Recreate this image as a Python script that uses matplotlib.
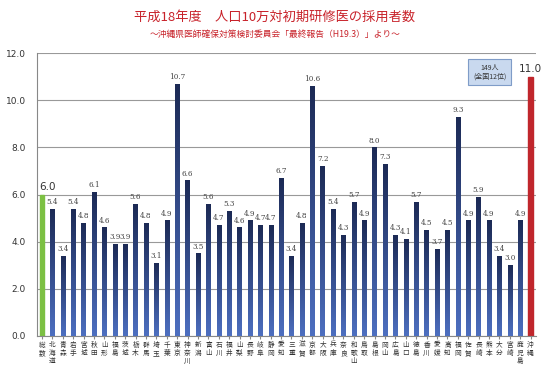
import matplotlib.pyplot as plt
import numpy as np
from matplotlib.colors import LinearSegmentedColormap

plt.rcParams['font.family'] = ['Noto Sans CJK JP', 'DejaVu Sans']

# データ
prefs = ['総数', '北海道', '青森', '岩手', '宮城', '秋田', '山形', '福島', '茨城', '栃木',
         '群馬', '埼玉', '千葉', '東京', '神奈川', '新潟', '富山', '石川', '福井', '山梨',
         '長野', '岐阜', '静岡', '愛知', '三重', '滋賀', '京都', '大阪', '兵庫', '奈良',
         '和歌山', '鳥取', '島根', '岡山', '広島', '山口', '徳島', '香川', '愛媛', '高知',
         '福岡', '佐賀', '長崎', '熊本', '大分', '宮崎', '鹿児島', '沖縄']
values = [6.0, 5.4, 3.4, 5.4, 4.8, 6.1, 4.6, 3.9, 3.9, 5.6,
          4.8, 3.1, 4.9, 10.7, 6.6, 3.5, 5.6, 4.7, 5.3, 4.6,
          4.9, 4.7, 4.7, 6.7, 3.4, 4.8, 10.6, 7.2, 5.4, 4.3,
          5.7, 4.9, 8.0, 7.3, 4.3, 4.1, 5.7, 4.5, 3.7, 4.5,
          9.3, 4.9, 5.9, 4.9, 3.4, 3.0, 4.9, 11.0]
yticks = [0, 2, 4, 6, 8, 10, 12]

fig = plt.figure(figsize=(5.5, 3.67), dpi=100)
ax = fig.add_axes([0.067, 0.085, 0.907, 0.77])

x = np.arange(len(prefs))
bars = ax.bar(x, values, width=0.42, color='#2E4787', zorder=2)

# 青いバーにグラデーション
cmap = LinearSegmentedColormap.from_list('bl', ['#4D6FC0', '#1C2A55'])
grad = np.linspace(0, 1, 100).reshape(-1, 1)
for i, b in enumerate(bars):
    if i == 0:
        b.set_color('#7CC043')
        continue
    if i == len(bars) - 1:
        b.set_color('#C0262C')
        continue
    im = ax.imshow(grad, cmap=cmap, aspect='auto', origin='lower',
                   extent=[b.get_x(), b.get_x() + b.get_width(), 0, b.get_height()],
                   zorder=3)
    im.set_clip_path(b)

# 数値ラベル
for i, v in enumerate(values):
    if i == 0 or i == len(values) - 1:
        ax.text(x[i] + (0.5 if i == 0 else 0), v + 0.12, f'{v:.1f}',
                ha='center', va='bottom', fontsize=7.5, family='DejaVu Sans',
                color='#333333', clip_on=False)
    else:
        ax.text(x[i], v + 0.12, f'{v:.1f}', ha='center', va='bottom',
                fontsize=5.2, family='DejaVu Serif', color='#444444')

ax.set_xlim(-0.5, len(prefs) - 0.5)
ax.set_ylim(0, 12)
ax.set_yticks(yticks)
ax.set_yticklabels([f'{t:.1f}' for t in yticks], fontsize=6.5, family='DejaVu Sans', color='#333333')
ax.set_xticks(x)
ax.set_xticklabels(['\n'.join(p) for p in prefs], fontsize=4.8, linespacing=1.05, color='#333333')
ax.tick_params(axis='x', length=2, pad=1.5, color='#888888')
ax.tick_params(axis='y', length=0, pad=8)
ax.grid(axis='y', color='#999999', linewidth=0.8, zorder=0)
for s in ['top', 'right']:
    ax.spines[s].set_visible(False)
ax.spines['left'].set_color('#888888')
ax.spines['bottom'].set_color('#888888')

ax.text(43.1, 11.2, '149人\n(全国12位)', ha='center', va='center', fontsize=5,
        linespacing=1.1, color='#333333',
        bbox=dict(boxstyle='square,pad=0.7', facecolor='#C9D9EF', edgecolor='#7F9CC8', linewidth=0.8))

fig.text(0.5, 0.953, '平成18年度　人口10万対初期研修医の採用者数', ha='center', va='center',
         fontsize=9.5, color='#C8222A')
fig.text(0.5, 0.905, '～沖縄県医師確保対策検討委員会「最終報告（H19.3）」より～', ha='center', va='center',
         fontsize=6.3, color='#C8222A')

fig.savefig('out.png', dpi=100)
